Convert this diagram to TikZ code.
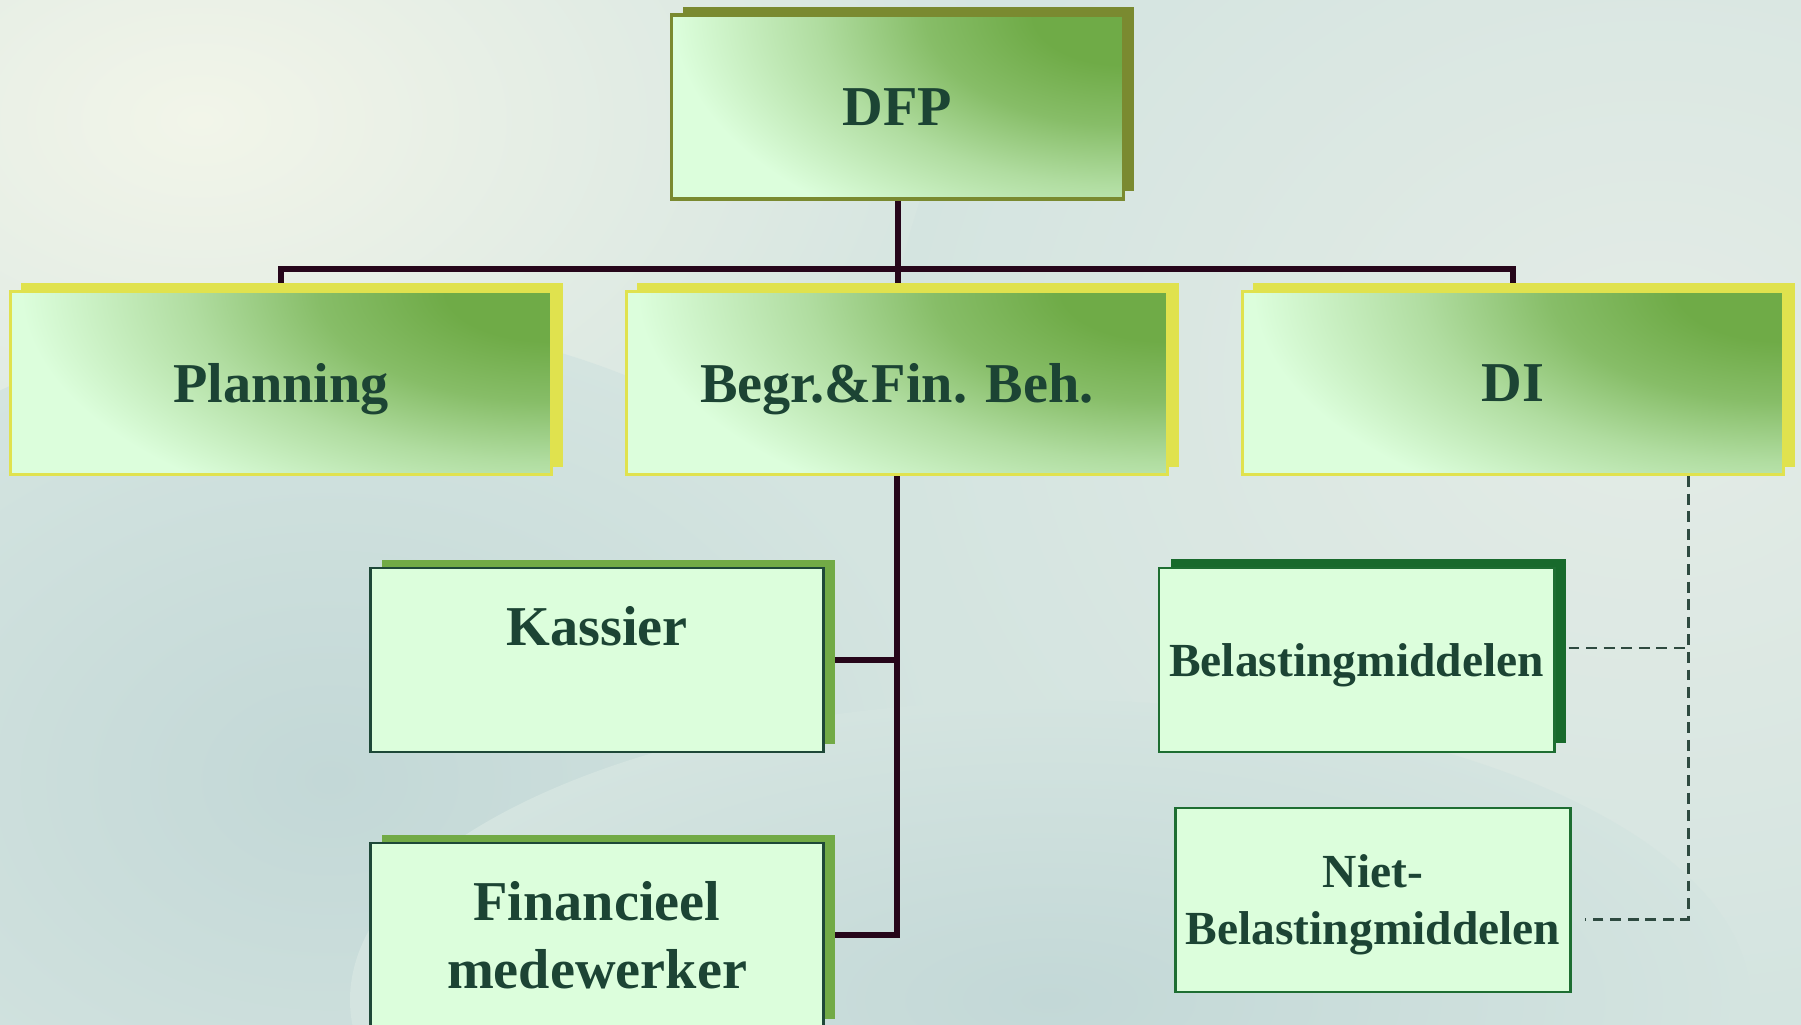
\documentclass[tikz,border=0pt]{standalone}
\usepackage{fontspec}
\setmainfont{Liberation Serif}
\usetikzlibrary{shadows,calc}

% palette
\definecolor{ink}{HTML}{1C4434}
\definecolor{mint}{HTML}{DCFEDC}
\definecolor{leaf}{HTML}{6FAB47}
\definecolor{olive}{HTML}{7A8A30}
\definecolor{lemon}{HTML}{E0E24E}
\definecolor{fern}{HTML}{72AA46}
\definecolor{pine}{HTML}{1E4838}
\definecolor{forest}{HTML}{186A2C}
\definecolor{forestline}{HTML}{1E6E32}
\definecolor{wirecol}{HTML}{26061A}
\definecolor{dashcol}{HTML}{2E4A40}
\definecolor{bgbase}{HTML}{D4E4E0}
\definecolor{bglight}{HTML}{F2F5E9}
\definecolor{bgright}{HTML}{E4ECE6}
\definecolor{bgblue}{HTML}{C3D8D7}

% green glow that sits in the upper right corner of the top boxes
\pgfdeclareradialshading{cornerglow}{\pgfpoint{0bp}{0bp}}{%
  color(0bp)=(leaf); color(5bp)=(leaf); color(11bp)=(leaf!78!mint);
  color(17bp)=(leaf!40!mint); color(25bp)=(mint); color(50bp)=(mint)}

\newcommand{\tierfont}{\fontsize{16}{19.2}\selectfont\bfseries}
\newcommand{\taxfont}{\fontsize{13.5}{16.2}\selectfont\bfseries}

\pgfdeclarelayer{backdrop}
\pgfdeclarelayer{wires}
\pgfsetlayers{backdrop,wires,main}

\tikzset{
  unitbox/.style={rectangle, inner sep=0pt, text=ink, text depth=0pt, align=center},
  gradfill/.style={path picture={
      \fill[mint] (path picture bounding box.south west) rectangle (path picture bounding box.north east);
      \shade[shading=cornerglow] (path picture bounding box.north east)
        ellipse [x radius=#1, y radius=2.5cm];}},
  headbox/.style={unitbox, gradfill=4.5cm, minimum width=4.51cm, minimum height=1.84cm,
    draw=olive, line width=0.9pt, font=\tierfont,
    general shadow={fill=olive, shadow xshift=0.11cm, shadow yshift=0.08cm}},
  tierbox/.style={unitbox, gradfill=5.3cm, minimum width=5.41cm, minimum height=1.83cm,
    draw=lemon, line width=0.9pt, font=\tierfont,
    general shadow={fill=lemon, shadow xshift=0.11cm, shadow yshift=0.08cm}},
  staffbox/.style={unitbox, fill=mint, minimum width=4.52cm, minimum height=1.84cm,
    draw=pine, line width=0.8pt, font=\tierfont,
    general shadow={fill=fern, shadow xshift=0.115cm, shadow yshift=0.08cm}},
  taxbox/.style={unitbox, fill=mint, minimum width=3.95cm, minimum height=1.84cm,
    draw=forestline, line width=0.8pt, font=\taxfont},
  solidwire/.style={draw=wirecol, line width=1.7pt, line join=miter},
  dashwire/.style={draw=dashcol, line width=0.85pt, dash pattern=on 3.1pt off 1.9pt}
}

\begin{document}
\begin{tikzpicture}[x=0.01cm, y=-0.01cm]
\useasboundingbox (0,0) rectangle (1801,1025);

% soft backdrop
\begin{pgfonlayer}{backdrop}
  \fill[bgbase] (0,0) rectangle (1801,1025);
  \begin{scope}
    \clip (0,0) rectangle (1801,1025);
    \shade[inner color=bglight, outer color=bgbase] (200,120) ellipse (800 and 520);
    \shade[inner color=bgright, outer color=bgbase] (1650,380) ellipse (760 and 640);
    \shade[inner color=bgblue, outer color=bgbase] (330,780) ellipse (620 and 460);
    \shade[inner color=bgblue, outer color=bgbase] (1050,1000) ellipse (700 and 300);
  \end{scope}
\end{pgfonlayer}

% boxes
\node[headbox] (dfp) at (897.5,107) {DFP};
\node[tierbox] (planning) at (281,383) {Planning};
\node[tierbox] (begr) at (897,383) {Begr.\&Fin. Beh.};
\node[tierbox] (di) at (1513,383) {DI};
\node[staffbox] (kassier) at (597,660) {Kassier\\~};
\node[staffbox] (fin) at (597,935) {Financieel\\medewerker};
\node[taxbox, general shadow={fill=forest, shadow xshift=0.12cm, shadow yshift=0.09cm}]
  (bel) at (1356.5,660) {Belastingmiddelen};
\node[taxbox] (niet) at (1373,900) {Niet-\\Belastingmiddelen};

% connectors
\begin{pgfonlayer}{wires}
  \coordinate (bus) at (897,269);
  \draw[solidwire] (dfp.south) -- (dfp.south |- begr.north);
  \draw[solidwire] (planning.north) |- (bus) -| (di.north);
  \draw[solidwire] (begr.south) -- (begr.south |- fin.east) -- (fin.east);
  \draw[solidwire] (begr.south |- kassier.east) -- (kassier.east);

  \coordinate (dcorner) at (1688,919);
  \coordinate (dbel) at (1688,648);
  \draw[dashwire] (di.south -| dcorner) -- (dcorner) -- ($(niet.east |- dcorner)+(13,0)$);
  \draw[dashwire] ($(bel.east |- dbel)+(13,0)$) -- (dbel);
\end{pgfonlayer}
\end{tikzpicture}
\end{document}
